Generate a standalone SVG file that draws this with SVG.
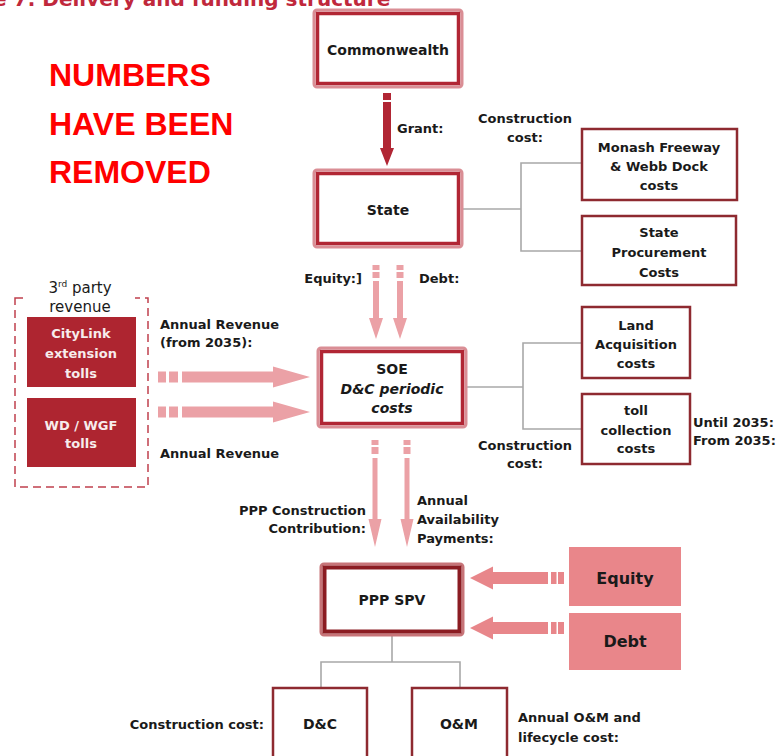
<svg xmlns="http://www.w3.org/2000/svg" width="779" height="756" viewBox="0 0 779 756">
<defs>
<style>
text{font-family:"DejaVu Sans","Liberation Sans",sans-serif;font-weight:bold;font-size:13px;fill:#1a1a1a}
.c{text-anchor:middle}
.r{text-anchor:end}
.w{fill:#f7ecec}
.big{font-family:"Liberation Sans",Arial,sans-serif;font-size:32px;fill:#ff0000}
.title{font-size:20px;fill:#c0283c}
.reg{font-weight:normal;font-size:15px}
.it{font-style:italic}
.n14{font-size:14px}
.n16{font-size:16px}
.outer{fill:#fff;stroke:#da8e95;stroke-width:3}
.inner{fill:none;stroke:#b12634;stroke-width:3.5}
.outerd{fill:#fff;stroke:#c77478;stroke-width:3}
.innerd{fill:none;stroke:#8b1c22;stroke-width:4}
.box{fill:#fff;stroke:#8e2a30;stroke-width:2.5}
.toll{fill:#ae2530}
.fund{fill:#e9868a}
.conn{fill:none;stroke:#a8a8a8;stroke-width:1.6}
.pink{fill:#eba1a6}
.salmon{fill:#e8868a}
.dark{fill:#b12634}
</style>
</defs>

<text class="title" x="-66" y="6">Figure 7: Delivery and funding structure</text>

<g id="notice">
<text class="big" x="49" y="86">NUMBERS</text>
<text class="big" x="49" y="135">HAVE BEEN</text>
<text class="big" x="49" y="183">REMOVED</text>
</g>

<g id="connectors">
<path class="conn" d="M463 209H521" stroke-width="2.5"/>
<path class="conn" d="M582 163H521V251H582"/>
<path class="conn" d="M466 387H523"/>
<path class="conn" d="M582 343H523V429H582"/>
<path class="conn" d="M392 635V662M321 687V662H460V687"/>
<rect class="dark" x="383" y="93" width="8" height="7"/>
<polygon class="dark" points="383,102 391,102 391,148 394,148 387,166 380,148 383,148"/>
<rect class="pink" x="372.5" y="265" width="7" height="5"/>
<rect class="pink" x="372.5" y="272" width="7" height="6"/>
<polygon class="pink" points="373,281 379,281 379,318 383,318 376,339 369,318 373,318"/>
<rect class="pink" x="396.5" y="265" width="7" height="5"/>
<rect class="pink" x="396.5" y="272" width="7" height="6"/>
<polygon class="pink" points="397,281 403,281 403,318 407,318 400,339 393,318 397,318"/>
<rect class="pink" x="158" y="371.5" width="8" height="11"/>
<rect class="pink" x="169" y="371.5" width="9" height="11"/>
<polygon class="pink" points="182,371.5 273,371.5 273,366.5 310,377 273,387.5 273,382.5 182,382.5"/>
<rect class="pink" x="158" y="406.5" width="8" height="11"/>
<rect class="pink" x="169" y="406.5" width="9" height="11"/>
<polygon class="pink" points="182,406.5 273,406.5 273,401.5 310,412 273,422.5 273,417.5 182,417.5"/>
<rect class="pink" x="371.5" y="440" width="7" height="5"/>
<rect class="pink" x="371.5" y="447" width="7" height="7"/>
<polygon class="pink" points="372.5,458 377.5,458 377.5,519 381.5,519 375,547 368.5,519 372.5,519"/>
<rect class="pink" x="403.5" y="440" width="7" height="5"/>
<rect class="pink" x="403.5" y="447" width="7" height="7"/>
<polygon class="pink" points="404.5,458 409.5,458 409.5,519 413.5,519 407,547 400.5,519 404.5,519"/>
<rect class="salmon" x="551" y="572" width="5.5" height="12"/>
<rect class="salmon" x="558" y="572" width="6" height="12"/>
<polygon class="salmon" points="548,572 493,572 493,566.5 470,578 493,589.5 493,584 548,584"/>
<rect class="salmon" x="551" y="622" width="5.5" height="12"/>
<rect class="salmon" x="558" y="622" width="6" height="12"/>
<polygon class="salmon" points="548,622 493,622 493,616.5 470,628 493,639.5 493,634 548,634"/>
</g>

<g id="labels">
<text x="397" y="133">Grant:</text>
<text class="c" x="525" y="123">Construction</text>
<text class="c" x="525" y="142">cost:</text>
<text class="r" x="362" y="283">Equity:]</text>
<text x="419" y="283">Debt:</text>
<text x="160" y="329">Annual Revenue</text>
<text x="160" y="347">(from 2035):</text>
<text x="160" y="458">Annual Revenue</text>
<text x="693" y="427">Until 2035:</text>
<text x="693" y="445">From 2035:</text>
<text class="c" x="525" y="450">Construction</text>
<text class="c" x="525" y="468">cost:</text>
<text class="r" x="366" y="515">PPP Construction</text>
<text class="r" x="366" y="533">Contribution:</text>
<text x="417" y="505">Annual</text>
<text x="417" y="524">Availability</text>
<text x="417" y="543">Payments:</text>
<text class="r" x="264" y="729">Construction cost:</text>
<text x="518" y="722">Annual O&amp;M and</text>
<text x="518" y="742">lifecycle cost:</text>
</g>

<g id="commonwealth">
<rect class="outer" x="314" y="10" width="148" height="77" rx="3"/>
<rect class="inner" x="317.5" y="13.5" width="141" height="70"/>
<text class="c n14" x="388" y="55">Commonwealth</text>
</g>

<g id="state">
<rect class="outer" x="314" y="170" width="148" height="77" rx="3"/>
<rect class="inner" x="317.5" y="173.5" width="141" height="70"/>
<text class="c n14" x="388" y="215">State</text>
</g>

<g id="monash">
<rect class="box" x="582" y="129" width="155" height="71"/>
<text class="c" x="659" y="152">Monash Freeway</text>
<text class="c" x="659" y="171">&amp; Webb Dock</text>
<text class="c" x="659" y="190">costs</text>
</g>

<g id="procurement">
<rect class="box" x="582" y="216" width="154" height="69"/>
<text class="c" x="659" y="237">State</text>
<text class="c" x="659" y="257">Procurement</text>
<text class="c" x="659" y="277">Costs</text>
</g>

<g id="third-party">
<rect x="15" y="298" width="133" height="189" fill="none" stroke="#c0404e" stroke-width="1.5" stroke-dasharray="8,5"/>
<rect x="27" y="280" width="108" height="34" fill="#fff"/>
<text class="c reg" x="80" y="293">3<tspan font-size="9" dy="-6">rd</tspan><tspan dy="6"> party</tspan></text>
<text class="c reg" x="80" y="312">revenue</text>
</g>

<g id="citylink">
<rect class="toll" x="27" y="317" width="109" height="70"/>
<text class="c w" x="81" y="338">CityLink</text>
<text class="c w" x="81" y="358">extension</text>
<text class="c w" x="81" y="378">tolls</text>
</g>

<g id="wd-wgf">
<rect class="toll" x="27" y="398" width="109" height="69"/>
<text class="c w" x="81" y="430">WD / WGF</text>
<text class="c w" x="81" y="448">tolls</text>
</g>

<g id="soe">
<rect class="outer" x="318" y="348" width="148" height="79" rx="3"/>
<rect class="inner" x="321.5" y="351.5" width="141" height="72"/>
<text class="c n14" x="392" y="374">SOE</text>
<text class="c it n14" x="392" y="394">D&amp;C periodic</text>
<text class="c it n14" x="392" y="413">costs</text>
</g>

<g id="land">
<rect class="box" x="582" y="307" width="108" height="71"/>
<text class="c" x="636" y="330">Land</text>
<text class="c" x="636" y="349">Acquisition</text>
<text class="c" x="636" y="368">costs</text>
</g>

<g id="toll-collection">
<rect class="box" x="582" y="394" width="108" height="70"/>
<text class="c" x="636" y="415">toll</text>
<text class="c" x="636" y="435">collection</text>
<text class="c" x="636" y="453">costs</text>
</g>

<g id="ppp-spv">
<rect class="outerd" x="321" y="564" width="142" height="71" rx="3"/>
<rect class="innerd" x="324.5" y="567.5" width="135" height="64"/>
<text class="c n14" x="392" y="605">PPP SPV</text>
</g>

<g id="equity">
<rect class="fund" x="569" y="547" width="112" height="59"/>
<text class="c n16" x="625" y="584">Equity</text>
</g>

<g id="debt">
<rect class="fund" x="569" y="613" width="112" height="57"/>
<text class="c n16" x="625" y="647">Debt</text>
</g>

<g id="dc">
<rect class="box" x="273" y="688" width="94" height="80"/>
<text class="c n14" x="320" y="729">D&amp;C</text>
</g>

<g id="om">
<rect class="box" x="412" y="688" width="95" height="80"/>
<text class="c n14" x="459" y="729">O&amp;M</text>
</g>
</svg>
